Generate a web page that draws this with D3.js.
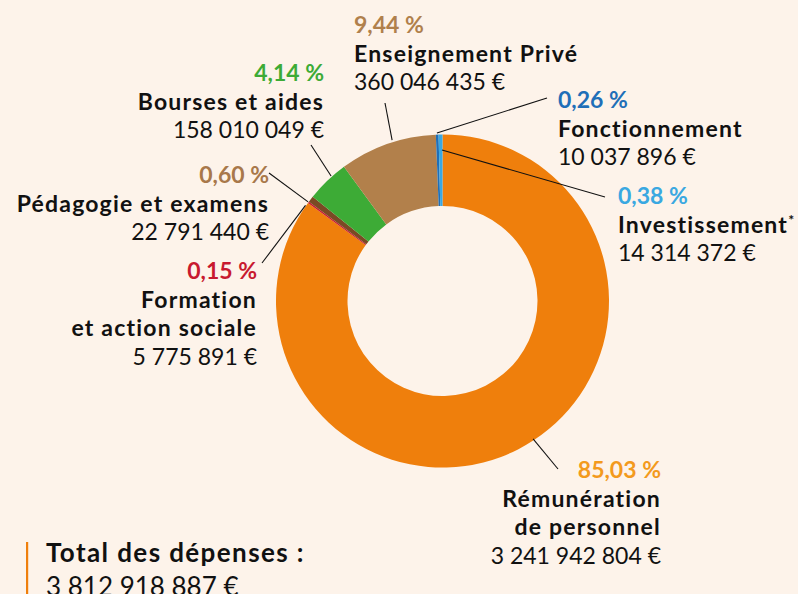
<!DOCTYPE html>
<html>
<head>
<meta charset="utf-8">
<script src="https://cdn.jsdelivr.net/npm/d3@7"></script>
<style>
  html, body { margin: 0; padding: 0; background: #fdf3ea; overflow: hidden; }
  svg text { font-family: Lato, "Open Sans", sans-serif; }
</style>
</head>
<body>
<div class="chart"></div>
<script>
var svgWidth = 798;
var svgHeight = 594;

// data, in the pie order (clockwise from 12 o'clock)
var categories = ["Rémunération de personnel", "Formation et action sociale", "Pédagogie et examens",
    "Bourses et aides", "Enseignement Privé", "Fonctionnement", "Investissement"];
var nameLines = [["Rémunération", "de personnel"], ["Formation", "et action sociale"], ["Pédagogie et examens"],
    ["Bourses et aides"], ["Enseignement Privé"], ["Fonctionnement"], ["Investissement"]];
var amounts = [3241942804, 5775891, 22791440, 158010049, 360046435, 10037896, 14314372];
var footnoteMark = [false, false, false, false, false, false, true];
var totalTitle = "Total des dépenses :";

// styles / layout
var bgColor = "#fdf3ea";
var sliceColors = ["#ef7f0c", "#c8192f", "#7a4a24", "#3dab36", "#b2804b", "#1f6fb8", "#3aa8e1"];
var pctColors = ["#f39a1d", "#c8192f", "#a8784a", "#3dab36", "#b0804c", "#1f6fb8", "#3aa8e1"];
var cx = 442.5, cy = 301;
var outerR = 166.5, innerR = 95;
var fontSize = 23;
var boldSpacing = 1.2;
var lineGap = 28.5;

var labelPos = [
    {x: 661, y: 478, anchor: "end"},
    {x: 257, y: 279, anchor: "end"},
    {x: 269, y: 183, anchor: "end"},
    {x: 324, y: 81, anchor: "end"},
    {x: 354, y: 33, anchor: "start"},
    {x: 558, y: 108, anchor: "start"},
    {x: 618, y: 204, anchor: "start"}
];
// leader lines: angle (deg, clockwise from top), radius of the start point, end point
var leaders = [
    {angle: 146.7, r: 165, end: [558, 469]},
    {angle: 304.9, r: 167, end: [262, 263]},
    {angle: 306.4, r: 167, end: [269, 173]},
    {angle: 318.3, r: 167.5, end: [311, 145]},
    {angle: 342.6, r: 168.5, end: [385, 103]},
    {angle: 358.1, r: 168, end: [547, 98]},
    {angle: 359.8, r: 151, end: [605, 197]}
];

var fr = d3.formatLocale({decimal: ",", thousands: "\u00a0", grouping: [3], currency: ["", " €"]});
var fmtAmount = v => fr.format(",")(v) + " €";
var fmtPct = v => fr.format(".2f")(v * 100) + " %";

var total = d3.sum(amounts);

var $svg = d3.select(".chart")
    .append("svg")
    .attr("width", svgWidth)
    .attr("height", svgHeight);

$svg.append("rect")
    .attr("width", svgWidth)
    .attr("height", svgHeight)
    .attr("fill", bgColor);

var pie = d3.pie().sort(null).value(d => d);
var arc = d3.arc().innerRadius(innerR).outerRadius(outerR);

var $donut = $svg.append("g")
    .attr("transform", `translate(${cx},${cy})`);

$donut.selectAll("path")
    .data(pie(amounts))
    .enter()
    .append("path")
    .attr("d", arc)
    .attr("fill", (d, i) => sliceColors[i]);

// leader lines
$svg.append("g")
    .selectAll("line")
    .data(leaders)
    .enter()
    .append("line")
    .attr("x1", d => cx + d.r * Math.sin(d.angle * Math.PI / 180))
    .attr("y1", d => cy - d.r * Math.cos(d.angle * Math.PI / 180))
    .attr("x2", d => d.end[0])
    .attr("y2", d => d.end[1])
    .attr("stroke", "#111")
    .attr("stroke-width", 1.1);

// labels
var $labels = $svg.append("g")
    .selectAll(".label")
    .data(categories)
    .enter()
    .append("text")
    .attr("class", "label")
    .attr("font-size", fontSize)
    .attr("text-anchor", (d, i) => labelPos[i].anchor);

$labels.each(function (d, i) {
    var t = d3.select(this);
    var p = labelPos[i];
    t.append("tspan")
        .attr("x", p.x).attr("y", p.y)
        .attr("font-weight", "bold")
        .attr("fill", pctColors[i])
        .text(fmtPct(amounts[i] / total));
    nameLines[i].forEach((line, j) => {
        t.append("tspan")
            .attr("x", p.x).attr("y", p.y + lineGap * (j + 1))
            .attr("font-weight", "bold")
            .attr("letter-spacing", boldSpacing)
            .attr("fill", "#111")
            .text(line);
        if (footnoteMark[i]) {
            t.append("tspan")
                .attr("font-weight", "bold")
                .attr("font-size", 14)
                .attr("dy", -8)
                .attr("fill", "#111")
                .text("*");
        }
    });
    t.append("tspan")
        .attr("x", p.x).attr("y", p.y + lineGap * (nameLines[i].length + 1))
        .attr("fill", "#111")
        .text(fmtAmount(amounts[i]));
});

// total block
$svg.append("rect")
    .attr("x", 26)
    .attr("y", 542)
    .attr("width", 2.2)
    .attr("height", 60)
    .attr("fill", sliceColors[0]);

$svg.append("text")
    .attr("x", 46).attr("y", 562)
    .attr("font-size", 26)
    .attr("font-weight", "bold")
    .attr("letter-spacing", 1.4)
    .attr("fill", "#111")
    .text(totalTitle);

$svg.append("text")
    .attr("x", 46).attr("y", 596)
    .attr("font-size", 26)
    .attr("fill", "#111")
    .text(fmtAmount(total));
</script>
</body>
</html>
